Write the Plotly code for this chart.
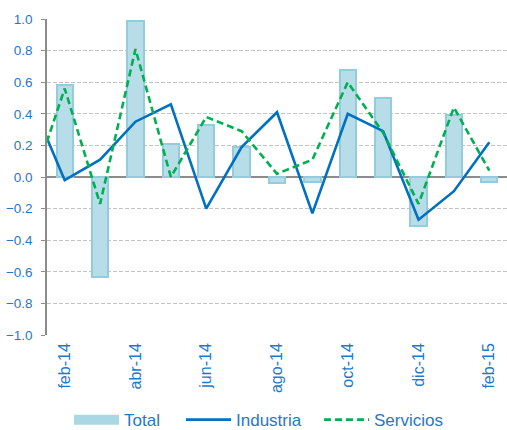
import plotly.graph_objects as go

# Categories (ene-14 only feeds the clipped start of the lines)
months = ["ene-14", "feb-14", "mar-14", "abr-14", "may-14", "jun-14", "jul-14",
          "ago-14", "sep-14", "oct-14", "nov-14", "dic-14", "ene-15", "feb-15"]
total = [None, 0.58, -0.63, 0.99, 0.21, 0.33, 0.19, -0.04, -0.03, 0.68, 0.50, -0.31, 0.39, -0.03]
industria = [0.51, -0.02, 0.11, 0.35, 0.46, -0.20, 0.19, 0.41, -0.23, 0.40, 0.29, -0.27, -0.09, 0.22]
servicios = [-0.11, 0.56, -0.17, 0.81, 0.00, 0.38, 0.29, 0.02, 0.11, 0.60, 0.28, -0.17, 0.44, 0.04]
tick_labels = months[1::2]
boundary_ticks = [2.5, 4.5, 6.5, 8.5, 10.5, 12.5]

BLUE_TXT = "#1f78c8"
GRAY = "#8c8c8c"
FONT = "Liberation Sans"

fig = go.Figure()

# legend-only proxy for the bar series (wide rectangle swatch)
fig.add_trace(go.Scatter(x=[None], y=[None], mode="lines", name="Total", legend="legend",
                         line=dict(color="#a9d7e4", width=13), showlegend=True))

fig.add_trace(go.Bar(x=months, y=total, name="Total", width=0.46, showlegend=False,
                     marker=dict(color="#b7dde8", line=dict(color="#93cddd", width=2))))

fig.add_trace(go.Scatter(x=months, y=industria, name="Industria", mode="lines",
                         legend="legend2", line=dict(color="#0070c0", width=2.6)))

fig.add_trace(go.Scatter(x=months, y=servicios, name="Servicios", mode="lines",
                         legend="legend3",
                         line=dict(color="#00b050", width=2.6, dash="7px,4px")))

def leg(xpx):
    return dict(orientation="h", xref="container", yref="container",
                x=xpx / 507, xanchor="left", y=0.023, yanchor="middle",
                font=dict(size=17, color=BLUE_TXT, family=FONT),
                itemwidth=45, bgcolor="rgba(0,0,0,0)")

fig.update_layout(
    width=507, height=430,
    margin=dict(l=47, r=0, t=19, b=95, autoexpand=False),
    paper_bgcolor="white", plot_bgcolor="white",
    font=dict(family=FONT, color=BLUE_TXT),
    bargap=0,
    xaxis=dict(type="category", categoryorder="array", categoryarray=months,
               range=[0.5, 13.5], tickvals=tick_labels, ticktext=tick_labels,
               tickangle=-90, ticks="", showline=False, showgrid=False,
               zeroline=False, ticklabelstandoff=4, automargin=False,
               tickfont=dict(size=16, color=BLUE_TXT, family=FONT)),
    xaxis2=dict(overlaying="x", anchor="free", position=0.5, range=[0.5, 13.5],
                tickvals=boundary_ticks, ticks="outside", ticklen=5, tickwidth=1,
                tickcolor=GRAY, showticklabels=False, showline=False,
                showgrid=False, zeroline=False),
    yaxis=dict(range=[-1, 1], dtick=0.2, tick0=0, tickformat=".1f",
               showgrid=True, gridcolor="#c4c4c4", gridwidth=1, griddash="4px,2px",
               showline=True, linecolor=GRAY, linewidth=1.5,
               ticks="outside", ticklen=4, tickcolor=GRAY,
               zeroline=True, zerolinecolor=GRAY, zerolinewidth=1.5,
               ticklabelstandoff=6, automargin=False,
               tickfont=dict(size=13.5, color=BLUE_TXT, family=FONT)),
    legend=leg(69),
    legend2=leg(181),
    legend3=leg(319),
    showlegend=True,
)

fig.write_html("out.html", config={"displayModeBar": False},
               post_script="document.body.style.margin='0';")
